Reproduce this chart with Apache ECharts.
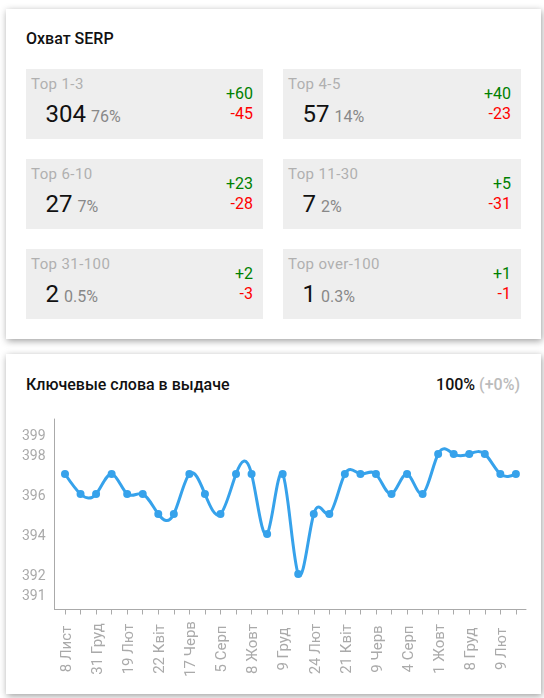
<!DOCTYPE html>
<html>
<head>
<meta charset="utf-8">
<script src="https://cdn.jsdelivr.net/npm/echarts@6/dist/echarts.min.js"></script>
<style>
html,body{margin:0;padding:0;background:#fff;width:544px;height:698px;overflow:hidden;font-family:Roboto,sans-serif}
.card{position:absolute;left:6px;width:535px;background:#fff;box-shadow:1px 2px 7px rgba(0,0,0,.38)}
.ttl{position:absolute;font-size:16px;font-weight:500;color:#111;line-height:18px;white-space:nowrap}
.tile{position:absolute;height:70px;background:#eee}
.tile>div{position:absolute;white-space:nowrap}
.nm{left:5px;top:6px;font-size:15px;line-height:18px;color:#b0b0b0;letter-spacing:.4px}
.val{left:19.5px;top:30px;font-size:24px;line-height:30px;color:#111}
.val span{font-size:16px;color:#888;margin-left:-1px}
.up{right:10px;top:16px;font-size:16px;line-height:18px;color:#008000}
.dn{right:10px;top:36px;font-size:16px;line-height:18px;color:#f00}
#chart{position:absolute;left:0;top:0;width:544px;height:698px}
</style>
</head>
<body>
<div class="card" style="top:9px;height:330px"></div>
<div class="card" style="top:354px;height:340px"></div>
<div class="ttl" style="left:26px;top:30px">Охват SERP</div>
<div class="ttl" style="left:26px;top:376px">Ключевые слова в выдаче</div>
<div class="ttl" style="right:24px;top:376px">100% <span style="color:#bbb">(+0%)</span></div>
<div id="tiles"></div>
<div id="chart"></div>
<script>
const tileNames = ['Top 1-3','Top 4-5','Top 6-10','Top 11-30','Top 31-100','Top over-100'];
const tileCounts = ['304','57','27','7','2','1'];
const tileShares = ['76%','14%','7%','2%','0.5%','0.3%'];
const tileUps = ['+60','+40','+23','+5','+2','+1'];
const tileDowns = ['-45','-23','-28','-31','-3','-1'];

const dateLabels = ['8 Лист','','31 Груд','','19 Лют','','22 Квіт','','17 Черв','','5 Серп','','8 Жовт','','9 Груд','','24 Лют','','21 Квіт','','9 Черв','','4 Серп','','1 Жовт','','8 Груд','','9 Лют',''];
const keywordCounts = [397,396,396,397,396,396,395,395,397,396,395,397,397,394,397,392,395,395,397,397,397,396,397,396,398,398,398,398,397,397];
const yTicks = [391,392,394,396,398,399];

const host = document.getElementById('tiles');
tileNames.forEach((n,i)=>{
  const t = document.createElement('div');
  t.className = 'tile';
  t.style.left = (i%2 ? 283 : 26)+'px';
  t.style.width = (i%2 ? 238 : 237)+'px';
  t.style.top = (69+90*Math.floor(i/2))+'px';
  t.innerHTML = `<div class="nm">${n}</div><div class="val">${tileCounts[i]} <span>${tileShares[i]}</span></div><div class="up">${tileUps[i]}</div><div class="dn">${tileDowns[i]}</div>`;
  host.appendChild(t);
});

// second derivatives of a natural cubic spline through pixel heights (unit spacing)
function splineMoments(ys){
  const n=ys.length, c=new Array(n).fill(0), d=new Array(n).fill(0), m=new Array(n).fill(0);
  for(let i=1;i<n-1;i++){
    const rhs=6*(ys[i+1]-2*ys[i]+ys[i-1]);
    const w=4-c[i-1];
    c[i]=1/w;
    d[i]=(rhs-d[i-1])/w;
  }
  for(let i=n-2;i>0;i--) m[i]=d[i]-c[i]*m[i+1];
  return m;
}

const pairs = keywordCounts.map((v,i)=>[i,v]);
const idx = dateLabels.map((_,i)=>i);
const chart = echarts.init(document.getElementById('chart'));
const blue = '#36A2EB', axisCol = '#aaa';
chart.setOption({
  animation:false,
  grid:{left:54.5,top:419,width:471.5,height:190.5,containLabel:false},
  xAxis:{
    type:'value',min:-0.675,max:29.65,
    splitLine:{show:false},
    axisLine:{onZero:false,lineStyle:{color:axisCol,width:1}},
    axisTick:{show:true,length:5,lineStyle:{color:axisCol},customValues:idx},
    axisLabel:{rotate:90,margin:39.5,align:'center',verticalAlign:'top',lineHeight:4,color:'#aaa',fontFamily:'Roboto',fontSize:15,
      customValues:idx.filter(i=>dateLabels[i]),
      formatter:v=>dateLabels[v]||''}
  },
  yAxis:{
    type:'value',min:390.225,max:399.75,
    splitLine:{show:false},
    axisLine:{show:true,onZero:false,lineStyle:{color:axisCol,width:1}},
    axisTick:{show:false},
    axisLabel:{margin:9,verticalAlign:'top',lineHeight:4,color:'#aaa',fontFamily:'Roboto',fontSize:14,customValues:yTicks}
  },
  series:[
    {
      type:'custom',
      coordinateSystem:'cartesian2d',
      clip:false,
      silent:true,
      data:pairs,
      renderItem(params,api){
        const i = params.dataIndex;
        if(i>=pairs.length-1) return null;
        const pts = pairs.map(p=>api.coord(p));
        const M = splineMoments(pts.map(p=>p[1]));
        const a=pts[i], b=pts[i+1], dy=b[1]-a[1], h=b[0]-a[0];
        return {type:'bezierCurve',
          shape:{x1:a[0],y1:a[1],x2:b[0],y2:b[1],
            cpx1:a[0]+h/3,cpy1:a[1]+(dy-(2*M[i]+M[i+1])/6)/3,
            cpx2:a[0]+2*h/3,cpy2:b[1]-(dy+(M[i]+2*M[i+1])/6)/3},
          style:{stroke:blue,lineWidth:3,fill:null,lineCap:'round'}};
      }
    },
    {
      type:'line',
      data:pairs,
      symbol:'circle',symbolSize:8,showSymbol:true,showAllSymbol:true,
      itemStyle:{color:blue},
      lineStyle:{width:0,opacity:0},
      z:3
    }
  ]
});
</script>
</body>
</html>
